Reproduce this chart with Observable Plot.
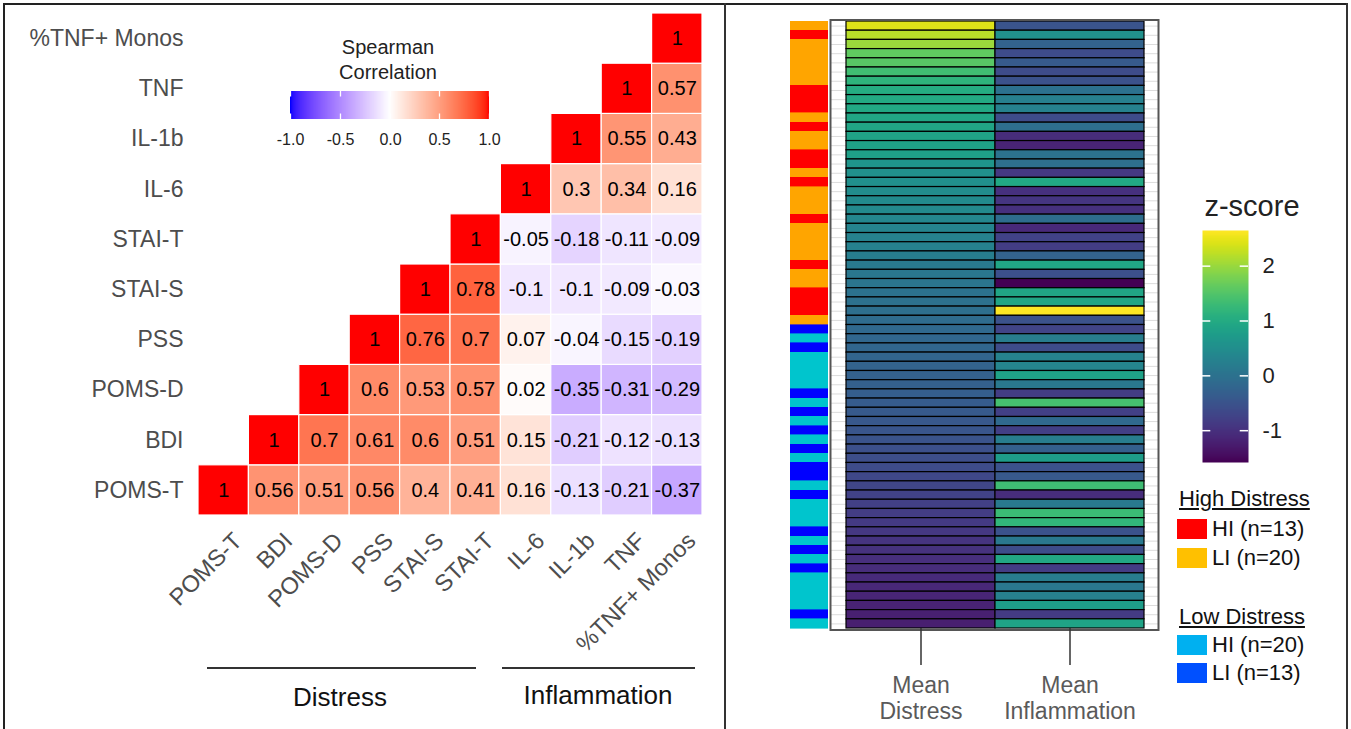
<!DOCTYPE html>
<html><head><meta charset="utf-8">
<script src="https://cdn.jsdelivr.net/npm/d3@7"></script>
<script src="https://cdn.jsdelivr.net/npm/@observablehq/plot@0.6"></script>
<style>
body{margin:0;background:#fff;font-family:"Liberation Sans",Arial,sans-serif}
#root{position:relative;width:1351px;height:729px;overflow:hidden;background:#fff}
.lbl{position:absolute;white-space:nowrap;transform:translate(-50%,-50%);line-height:1}
.lft{position:absolute;white-space:nowrap;transform:translate(0,-50%);line-height:1}
.box{position:absolute}
</style></head><body><div id="root"></div>
<script>
// ---------- LEFT: Spearman correlation matrix ----------
const vars = ["POMS-T","BDI","POMS-D","PSS","STAI-S","STAI-T","IL-6","IL-1b","TNF","%TNF+ Monos"];
const rPOMST = [1, 0.56, 0.51, 0.56, 0.4, 0.41, 0.16, -0.13, -0.21, -0.37];
const rBDI   = [1, 0.7, 0.61, 0.6, 0.51, 0.15, -0.21, -0.12, -0.13];
const rPOMSD = [1, 0.6, 0.53, 0.57, 0.02, -0.35, -0.31, -0.29];
const rPSS   = [1, 0.76, 0.7, 0.07, -0.04, -0.15, -0.19];
const rSTAIS = [1, 0.78, -0.1, -0.1, -0.09, -0.03];
const rSTAIT = [1, -0.05, -0.18, -0.11, -0.09];
const rIL6   = [1, 0.3, 0.34, 0.16];
const rIL1b  = [1, 0.55, 0.43];
const rTNF   = [1, 0.57];
const rMonos = [1];
const corrLegendTicks = [-1, -0.5, 0, 0.5, 1];
const groupsLeft = ["Distress", "Inflammation"];

// ---------- RIGHT: z-score heatmap ----------
const groupCode = [
 "HD-LI","HD-HI","HD-LI","HD-LI","HD-LI","HD-LI","HD-LI","HD-HI","HD-HI","HD-HI",
 "HD-LI","HD-HI","HD-LI","HD-LI","HD-HI","HD-HI","HD-LI","HD-HI","HD-LI","HD-LI",
 "HD-LI","HD-HI","HD-LI","HD-LI","HD-LI","HD-LI","HD-HI","HD-LI","HD-LI","HD-HI",
 "HD-HI","HD-HI","HD-LI","LD-LI","LD-HI","LD-LI","LD-HI","LD-HI","LD-HI","LD-HI",
 "LD-LI","LD-HI","LD-LI","LD-HI","LD-LI","LD-HI","LD-LI","LD-HI","LD-LI","LD-LI",
 "LD-HI","LD-LI","LD-HI","LD-HI","LD-HI","LD-LI","LD-HI","LD-LI","LD-HI","LD-LI",
 "LD-HI","LD-HI","LD-HI","LD-HI","LD-LI","LD-HI"];
const meanDistress = [
 2.44, 2.2, 2.02, 1.62, 1.55, 1.35, 1.15, 1.02, 0.98, 0.95,
 0.92, 0.9, 0.87, 0.84, 0.8, 0.62, 0.55, 0.52, 0.48, 0.45,
 0.42, 0.38, 0.33, 0.3, 0.27, 0.22, 0.15, 0.1, 0.06, 0.02,
 -0.02, -0.05, -0.1, -0.15, -0.18, -0.2, -0.22, -0.25, -0.28, -0.3,
 -0.33, -0.36, -0.4, -0.43, -0.46, -0.5, -0.55, -0.58, -0.62, -0.66,
 -0.7, -0.74, -0.78, -0.82, -0.86, -0.9, -0.94, -0.98, -1.01, -1.04,
 -1.08, -1.11, -1.14, -1.17, -1.2, -1.23];
const meanInflammation = [
 -0.48, 0.54, -0.25, -0.62, -0.4, -0.62, -0.52, 0.0, 0.25, 0.3,
 -0.62, -0.05, -1.05, -1.16, 0.02, -0.05, -0.9, 0.96, -1.0, -0.92,
 -1.0, -0.08, -1.1, -0.75, -0.82, -0.25, 0.92, -0.55, -1.58, 0.9,
 0.9, 2.65, -0.52, -0.73, 0.2, -0.62, 0.28, 0.35, 0.85, 0.11,
 -0.82, 1.4, -0.78, -0.15, -0.8, 0.2, -0.3, 0.75, -0.52, -0.42,
 1.33, -1.05, 0.13, 1.3, 1.2, -0.52, 0.11, -0.6, 0.95, -0.82,
 0.2, 0.11, 0.25, 0.75, -0.85, 0.88];
const columnsR = ["Mean Distress", "Mean Inflammation"];
const groupNames = ["HD-HI", "HD-LI", "LD-HI", "LD-LI"];
const barColors = ["#ff0000", "#ffa500", "#00c5cd", "#0000ff"];
const zTicks = [-1, 0, 1, 2];
const legendSections = ["High Distress", "Low Distress"];
const legendLabels = ["HI (n=13)", "LI (n=20)", "HI (n=20)", "LI (n=13)"];
const legendColors = ["#ff0000", "#ffc000", "#00b0f0", "#0050ff"];

const FONT = "'Liberation Sans', Arial, sans-serif";
const root = document.getElementById("root");
function place(el, left, top) {
  el.style.position = "absolute"; el.style.left = left + "px"; el.style.top = top + "px";
  el.style.background = "transparent"; el.style.maxWidth = "none";
  root.appendChild(el); return el;
}
function html(cls, text, x, y, css) {
  const d = document.createElement("div");
  d.className = cls; d.textContent = text;
  d.style.left = x + "px"; d.style.top = y + "px";
  Object.assign(d.style, css || {});
  root.appendChild(d); return d;
}
function box(x, y, w, h, color) {
  const d = document.createElement("div");
  d.className = "box";
  Object.assign(d.style, {left: x + "px", top: y + "px", width: w + "px", height: h + "px", background: color});
  root.appendChild(d); return d;
}

// ---- left plot ----
const corrRows = [rPOMST, rBDI, rPOMSD, rPSS, rSTAIS, rSTAIT, rIL6, rIL1b, rTNF, rMonos];
const corr = corrRows.flatMap((row, i) => row.map((r, k) => ({row: vars[i], col: vars[i + k], r})));
const corrColor = {type: "linear", domain: [-1, 0, 1], range: ["blue", "white", "red"], interpolate: "lab"};

const left = Plot.plot({
  width: 725, height: 729,
  marginLeft: 198, marginRight: 23, marginTop: 13, marginBottom: 214,
  style: {fontFamily: FONT, background: "transparent"},
  x: {domain: vars, padding: 0, round: false, axis: null},
  y: {domain: vars.slice().reverse(), padding: 0, round: false, axis: null},
  color: corrColor,
  marks: [
    Plot.cell(corr, {x: "col", y: "row", fill: "r", stroke: "white", strokeWidth: 1.2}),
    Plot.text(corr, {x: "col", y: "row", text: d => String(d.r), fontSize: 20, fill: "black"}),
    Plot.axisY({tickSize: 0, tickPadding: 15, fontSize: 23, fill: "#4d4d4d", label: null}),
    Plot.text(vars, {x: d => d, frameAnchor: "bottom", rotate: -45, textAnchor: "end", lineAnchor: "top",
      dx: 8, dy: 15, fontSize: 23.5, fill: "#4d4d4d"})
  ]
});
place(left, 0, 0);

// correlation legend
html("lbl", "Spearman", 388, 47, {fontSize: "20px", color: "#222"});
html("lbl", "Correlation", 388, 72, {fontSize: "20px", color: "#222"});
const corrLegend = Plot.legend({
  color: corrColor,
  width: 215, height: 60, marginLeft: 8, marginRight: 8, marginTop: 4, marginBottom: 28,
  tickSize: 0, ticks: corrLegendTicks, tickFormat: d => d.toFixed(1),
  style: {fontSize: "16px", fontFamily: FONT, color: "#222", background: "transparent"}
});
d3.select(corrLegend).selectAll(".tick line").attr("stroke", "white").attr("stroke-width", 1.3)
  .attr("stroke-dasharray", "5.5,17,5.5");
d3.select(corrLegend).selectAll(".tick text").attr("y", 15);
place(corrLegend, 282, 87);

// group underlines and labels
box(207, 667, 269, 1.6, "#333");
box(502, 667, 193, 1.6, "#333");
html("lbl", groupsLeft[0], 340, 697, {fontSize: "26px", color: "#111"});
html("lbl", groupsLeft[1], 598, 695, {fontSize: "26px", color: "#111"});

// ---- right plots ----
const rows = groupCode.map((g, i) => ({id: i + 1, group: g}));
const ids = rows.map(d => d.id);
const cellsR = rows.flatMap((d, i) => [
  {id: d.id, v: columnsR[0], z: meanDistress[i]},
  {id: d.id, v: columnsR[1], z: meanInflammation[i]}
]);
const zDomain = d3.extent(cellsR, d => d.z);

const sidebar = Plot.plot({
  width: 38, height: 729, marginLeft: 0, marginRight: 0, marginTop: 21, marginBottom: 101,
  style: {background: "transparent"},
  y: {domain: ids, padding: 0, round: false, axis: null},
  color: {domain: groupNames, range: barColors},
  marks: [Plot.cell(rows, {y: "id", fill: "group", stroke: "group", strokeWidth: 0.6, shapeRendering: "crispEdges"})]
});
place(sidebar, 790, 0);

const heat = Plot.plot({
  width: 331, height: 729, marginLeft: 17, marginRight: 16, marginTop: 21, marginBottom: 101,
  style: {fontFamily: FONT, background: "transparent"},
  x: {domain: columnsR, padding: 0, round: false, axis: null},
  y: {domain: ids, padding: 0, round: false, axis: null},
  color: {type: "linear", scheme: "viridis", domain: zDomain},
  marks: [
    Plot.gridY({stroke: "#dcdcdc", strokeOpacity: 1, insetLeft: -16, insetRight: -14}),
    Plot.cell(cellsR, {x: "v", y: "id", fill: "z", stroke: "black", strokeWidth: 1.2}),
    Plot.frame({stroke: "#555", strokeWidth: 2, insetLeft: -16, insetRight: -14, insetTop: -1.5, insetBottom: -1.5}),
    Plot.axisX({tickSize: 37, tickPadding: 9, fontSize: 23, fill: "#5a5a5a", stroke: "#333", strokeWidth: 1.5,
      tickFormat: d => d.replace(" ", "\n"), lineHeight: 1.13, label: null})
  ]
});
place(heat, 829, 0);

// z-score legend
html("lbl", "z-score", 1252, 206, {fontSize: "29px", color: "#222"});
const zLegend = Plot.plot({
  width: 150, height: 300, marginLeft: 42, marginRight: 62, marginTop: 30, marginBottom: 38,
  style: {fontFamily: FONT, background: "transparent"},
  x: {domain: [0, 1], axis: null},
  y: {domain: zDomain, axis: null},
  color: {type: "linear", scheme: "viridis", domain: zDomain},
  marks: [
    Plot.raster({fill: (x, y) => y, x1: 0, x2: 1, y1: zDomain[0], y2: zDomain[1], imageRendering: "auto"}),
    Plot.ruleY(zTicks, {y: d => d, x1: 0, x2: 0.18, stroke: "white", strokeWidth: 1.5}),
    Plot.ruleY(zTicks, {y: d => d, x1: 0.82, x2: 1, stroke: "white", strokeWidth: 1.5}),
    Plot.axisY({anchor: "right", ticks: zTicks, tickSize: 0, tickPadding: 14, fontSize: 22, fill: "#222",
      tickFormat: d => String(d), label: null})
  ]
});
place(zLegend, 1160, 200);

// group legend
html("lft", legendSections[0], 1179, 499, {fontSize: "22px", color: "#111", textDecoration: "underline"});
html("lft", legendSections[1], 1179, 617, {fontSize: "22px", color: "#111", textDecoration: "underline"});
const swY = [529, 558, 645, 673];
legendLabels.forEach((t, i) => {
  box(1177, swY[i] - 10, 30, 20, legendColors[i]);
  html("lft", t, 1212, swY[i], {fontSize: "22px", color: "#111"});
});

// outer frame and divider
box(4, 3, 1344, 2, "#222");
box(3, 3, 2, 726, "#222");
box(1346, 3, 2, 726, "#333");
box(724, 3, 2, 726, "#333");
</script></body></html>
